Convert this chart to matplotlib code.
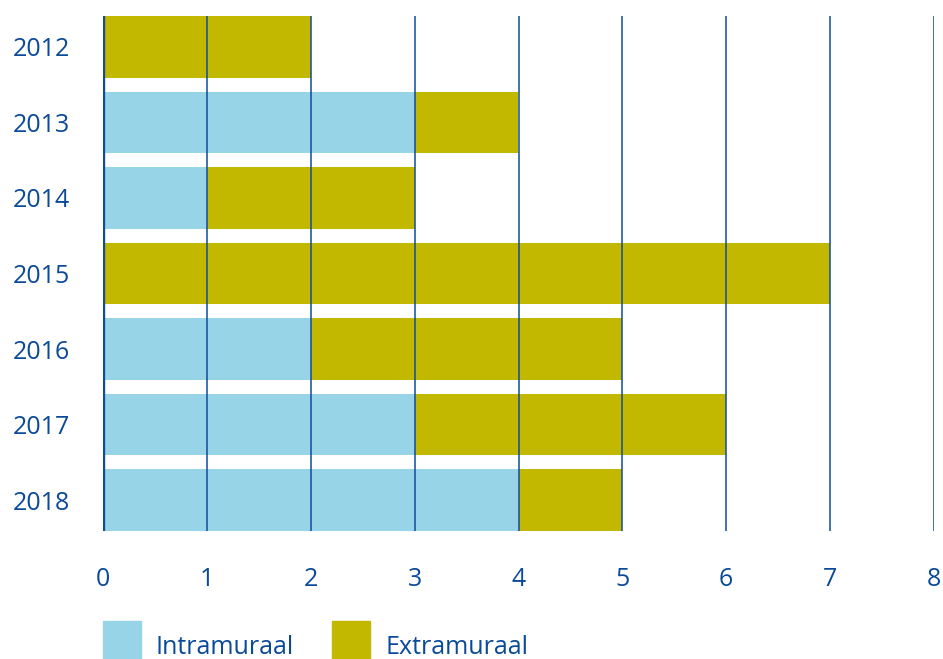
import numpy as np
import matplotlib.pyplot as plt
from matplotlib.patches import Rectangle

plt.rcParams['font.family'] = ['Open Sans', 'DejaVu Sans']
plt.rcParams['font.weight'] = 500

years = ["2012", "2013", "2014", "2015", "2016", "2017", "2018"]
intramuraal = [0, 3, 1, 0, 2, 3, 4]
extramuraal = [2, 1, 2, 7, 3, 3, 1]
xticks = [0, 1, 2, 3, 4, 5, 6, 7, 8]

blue = "#97d4e8"
olive = "#c3b800"
textcol = "#0b4a9a"
gridcol = "#0f4c9a"

fig = plt.figure(figsize=(9.43, 6.59), dpi=100)
ax = fig.add_axes([103/943, 1 - 531/659, 831/943, 515/659])

y = np.arange(len(years))
h = 0.82
ax.barh(y, intramuraal, height=h, color=blue, zorder=1)
ax.barh(y, extramuraal, left=intramuraal, height=h, color=olive, zorder=1)

for x in xticks[1:]:
    ax.axvline(x, color=gridcol, lw=1.1, zorder=3)
ax.axvline(0, color=gridcol, lw=2.4, zorder=3)

ax.set_xlim(0, 8)
ax.set_ylim(len(years) - 1 + h/2, -h/2)
ax.set_yticks(y)
ax.set_yticklabels(years)
ax.set_xticks(xticks)
ax.tick_params(length=0, labelsize=18, labelcolor=textcol)
ax.tick_params(axis='y', pad=24)
ax.tick_params(axis='x', pad=26)
for s in ax.spines.values():
    s.set_visible(False)

# legend
fig.patches.append(Rectangle((103/943, 0), 38/943, 38/659, transform=fig.transFigure,
                             color=blue, figure=fig))
fig.patches.append(Rectangle((332/943, 0), 38/943, 38/659, transform=fig.transFigure,
                             color=olive, figure=fig))
fig.text(155/943, 5/659, "Intramuraal", fontsize=18, color=textcol, va='baseline')
fig.text(385/943, 5/659, "Extramuraal", fontsize=18, color=textcol, va='baseline')

fig.savefig("out.png", dpi=100)
